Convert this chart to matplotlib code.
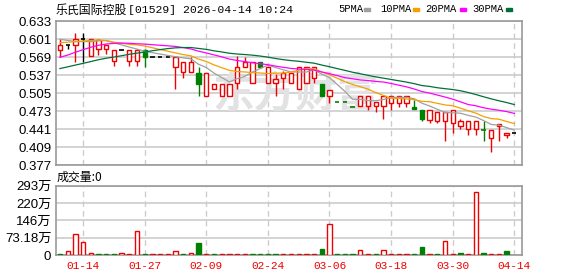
import numpy as np
import pandas as pd
import matplotlib
matplotlib.use('Agg')
import matplotlib.pyplot as plt
from matplotlib.patches import Rectangle

title_cn = '乐氏国际控股'
title_rest = '[01529] 2026-04-14 10:24'
tick_idx = [3, 11, 19, 27, 35, 43, 51, 59]
tick_labels = ['01-14', '01-27', '02-09', '02-24', '03-06', '03-18', '03-30', '04-14']

# closes before the visible window (estimated), only feed the moving averages
prior_close = [0.500, 0.505, 0.511, 0.505, 0.500, 0.511, 0.520, 0.511, 0.505, 0.522,
               0.511, 0.500, 0.511, 0.514, 0.530, 0.545, 0.560, 0.571, 0.590, 0.598,
               0.582, 0.590, 0.591, 0.590, 0.592, 0.600, 0.611, 0.601, 0.603]

opens = [0.582, 0.590, 0.591, 0.601, 0.572, 0.583, 0.583, 0.562, 0.582, 0.562,
         0.562, 0.582, 0.570, 0.570, 0.570, 0.552, 0.542, 0.542, 0.541, 0.501,
         0.512, 0.501, 0.501, 0.524, 0.552, 0.523, 0.561, 0.523, 0.523, 0.532,
         0.523, 0.512, 0.523, 0.532, 0.521, 0.501, 0.490, 0.489, 0.481, 0.482,
         0.482, 0.482, 0.482, 0.487, 0.487, 0.487, 0.481, 0.475, 0.458, 0.456,
         0.456, 0.452, 0.447, 0.441, 0.441, 0.440, 0.426, 0.447, 0.430, 0.434]
closes = [0.590, 0.590, 0.601, 0.601, 0.601, 0.600, 0.590, 0.582, 0.582, 0.582,
          0.582, 0.570, 0.570, 0.570, 0.570, 0.570, 0.560, 0.561, 0.522, 0.541,
          0.521, 0.521, 0.521, 0.551, 0.561, 0.560, 0.552, 0.551, 0.530, 0.541,
          0.541, 0.551, 0.551, 0.551, 0.501, 0.511, 0.490, 0.489, 0.481, 0.500,
          0.500, 0.489, 0.500, 0.500, 0.500, 0.500, 0.477, 0.460, 0.475, 0.471,
          0.471, 0.475, 0.456, 0.456, 0.456, 0.440, 0.440, 0.450, 0.434, 0.434]
highs = [0.601, 0.590, 0.613, 0.613, 0.602, 0.602, 0.590, 0.582, 0.582, 0.582,
         0.583, 0.584, 0.570, 0.570, 0.570, 0.571, 0.560, 0.570, 0.552, 0.541,
         0.521, 0.521, 0.521, 0.571, 0.570, 0.561, 0.561, 0.551, 0.539, 0.544,
         0.541, 0.551, 0.551, 0.551, 0.521, 0.511, 0.490, 0.489, 0.481, 0.500,
         0.500, 0.489, 0.500, 0.500, 0.500, 0.500, 0.493, 0.475, 0.475, 0.471,
         0.471, 0.475, 0.460, 0.456, 0.456, 0.456, 0.440, 0.450, 0.434, 0.434]
lows = [0.569, 0.584, 0.561, 0.561, 0.572, 0.573, 0.575, 0.553, 0.582, 0.553,
        0.553, 0.552, 0.570, 0.570, 0.570, 0.512, 0.532, 0.542, 0.501, 0.501,
        0.512, 0.501, 0.501, 0.513, 0.552, 0.523, 0.552, 0.523, 0.501, 0.512,
        0.523, 0.512, 0.523, 0.523, 0.501, 0.487, 0.490, 0.489, 0.481, 0.482,
        0.475, 0.471, 0.459, 0.475, 0.480, 0.480, 0.477, 0.456, 0.452, 0.452,
        0.421, 0.435, 0.441, 0.431, 0.430, 0.421, 0.400, 0.421, 0.426, 0.434]
# volume in 万股
volume = [3, 17, 87, 53, 8, 3, 3, 3, 8, 3,
          103, 3, 3, 3, 3, 17, 3, 8, 52, 3,
          3, 3, 3, 3, 3, 3, 3, 3, 3, 3,
          3, 3, 3, 3, 25, 130, 3, 3, 3, 20,
          3, 3, 20, 3, 3, 3, 3, 34, 3, 3,
          59, 3, 8, 3, 268, 8, 3, 3, 17, 0]

price_ticks = [0.377, 0.409, 0.441, 0.473, 0.505, 0.537, 0.569, 0.601, 0.633]
vol_ticks = [0, 73.18, 146.36, 219.54, 292.72]
vol_tick_labels = ['0', '73.18万', '146万', '220万', '293万']

RED = '#f00000'
GREEN = '#008000'
ma_cols = {5: '#a0a0a0', 10: '#f5a000', 20: '#ff00ff', 30: '#00703a'}

W, H = 578, 276
fig = plt.figure(figsize=(W / 100, H / 100), dpi=100)
ax = fig.add_axes([55.5 / W, 1 - 165.3 / H, 466.2 / W, 144 / H])
axv = fig.add_axes([55.5 / W, 1 - 255 / H, 466.2 / W, 69.3 / H])

n = len(closes)
bw = 0.56
all_close = pd.Series(prior_close + closes)
for i in range(n):
    o, c, h, l = opens[i], closes[i], highs[i], lows[i]
    prev = closes[i - 1] if i else prior_close[-1]
    if c > o:
        col, fill = RED, 'white'
    elif c < o:
        col, fill = GREEN, GREEN
    else:
        col = RED if c > prev else (GREEN if c < prev else 'black')
        fill = col
    top, bot = max(o, c), min(o, c)
    if h > top:
        ax.vlines(i, top, h, color=col, lw=1, zorder=3)
    if l < bot:
        ax.vlines(i, l, bot, color=col, lw=1, zorder=3)
    if c == o:
        ax.hlines(c, i - bw / 2, i + bw / 2, color=col, lw=1.2, zorder=3)
    else:
        ax.add_patch(Rectangle((i - bw / 2, bot), bw, top - bot, facecolor=fill,
                               edgecolor=col, lw=1, zorder=3))

    v = volume[i]
    if v > 0:
        up = c >= prev
        axv.add_patch(Rectangle((i - bw / 2, 0), bw, v,
                                facecolor='white' if up else GREEN,
                                edgecolor=RED if up else GREEN, lw=1, zorder=3))

xs = np.arange(n)
for k, col in ma_cols.items():
    ma = all_close.rolling(k).mean().values[len(prior_close):]
    ax.plot(xs, ma, color=col, lw=0.9, zorder=4)

ax.text(0.516, 0.49, '东方财富', transform=ax.transAxes, fontsize=30, fontweight='bold',
        color='#e2e2e4', ha='center', va='center', family='Noto Sans CJK SC', zorder=1)

for a in (ax, axv):
    a.set_xlim(-0.58, 59.96)
    a.set_xticks(tick_idx)
    a.xaxis.grid(True, color='#cccccc', ls=(0, (4, 3)), lw=1)
    a.yaxis.grid(True, color='#cccccc', lw=1.2)
    a.set_axisbelow(True)
    a.tick_params(length=0, pad=3, labelsize=9.5)
    for s in a.spines.values():
        s.set_color('#999999')
        s.set_linewidth(1.2)

ax.set_ylim(0.377, 0.633)
ax.set_yticks(price_ticks)
ax.set_yticklabels([f'{t:.3f}' for t in price_ticks], family='Liberation Sans', fontsize=9.5)
ax.set_xticklabels([])

axv.set_ylim(0, 292.72)
axv.set_yticks(vol_ticks)
axv.set_yticklabels(vol_tick_labels, family=['Liberation Sans', 'Noto Sans CJK SC'], fontsize=9.5)
axv.set_xticklabels(tick_labels, family='Liberation Mono', fontsize=8, color=RED)
axv.tick_params(axis='x', pad=4)


def ftext(x, y, s, **kw):
    fig.text(x / W, 1 - y / H, s, va='center', **kw)


ftext(56, 10, title_cn, family='Noto Sans CJK SC', fontsize=8.6)
ftext(128, 10, title_rest, family='Liberation Mono', fontsize=8.2)
ftext(57, 177, '成交量:0', family=['Noto Sans CJK SC', 'DejaVu Sans'], fontsize=8.6)

legend = [('5PMA', 338, 364), ('10PMA', 380, 413), ('20PMA', 425, 460), ('30PMA', 472, 506)]
for (lab, tx, sx), col in zip(legend, ma_cols.values()):
    ftext(tx, 9, lab, family='Liberation Mono', fontsize=7.6)
    fig.patches.append(Rectangle((sx / W, 1 - 11 / H), 6 / W, 3 / H, color=col,
                                 transform=fig.transFigure))

fig.savefig('out.png', dpi=100)
